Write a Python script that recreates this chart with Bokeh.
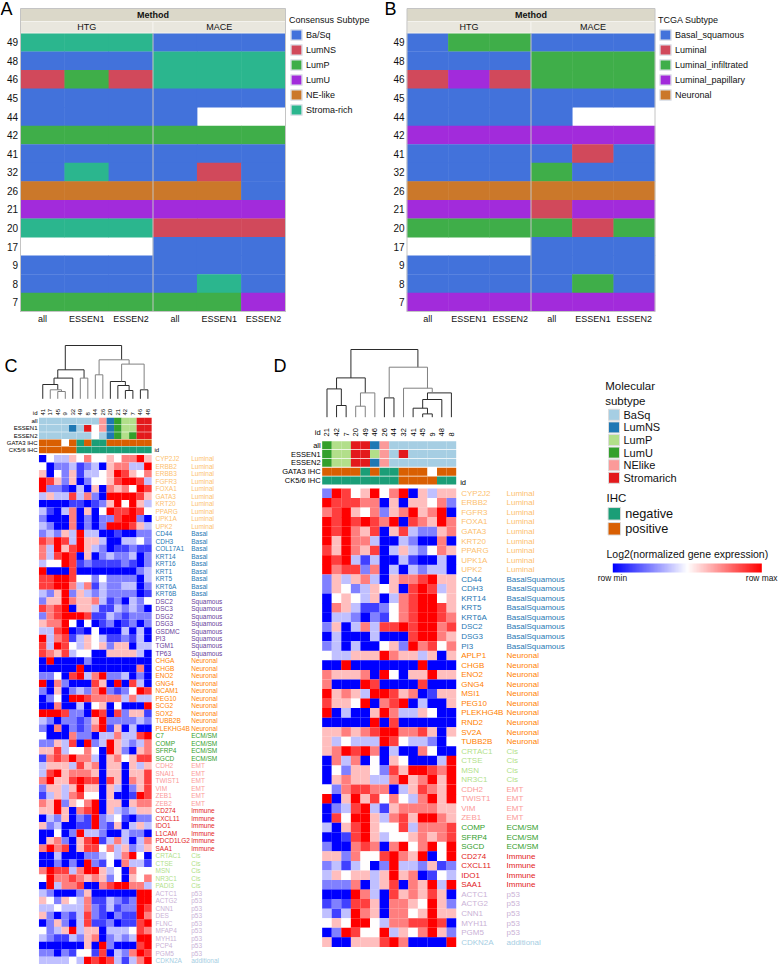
from bokeh.embed import file_html
from bokeh.resources import INLINE
from bokeh.plotting import figure
from bokeh.layouts import column, row
from bokeh.core.properties import value
from bokeh.models import (ColumnDataSource, Range1d, FixedTicker, Legend, LegendItem,
                          LinearColorMapper, ColorBar)
from math import pi

FONT = "Liberation Sans"
IDS = ["49", "48", "46", "45", "44", "42", "41", "32", "26", "21", "20", "17", "9", "8", "7"]
METHOD_COLS = ["all", "ESSEN1", "ESSEN2", "all", "ESSEN1", "ESSEN2"]

CONS_NAMES = {"B": "Ba/Sq", "N": "LumNS", "P": "LumP", "U": "LumU", "E": "NE-like", "S": "Stroma-rich"}
CONS_COLORS = ["#4272db", "#d1495b", "#3fae49", "#a22bdb", "#cb782a", "#2bb68e"]
CONS_TABLE = ["SSSBBB", "BBBSSS", "NPNSSS", "BBBBBB", "BBBB--", "PPPPPP", "BBBBBB", "BSBBNB",
              "EEEEEB", "UUUUUU", "SSSNNN", "---BBB", "BBBBBB", "BBBBSB", "PPPPPU"]
TCGA_NAMES = {"B": "Basal_squamous", "L": "Luminal", "I": "Luminal_infiltrated", "P": "Luminal_papillary", "N": "Neuronal"}
TCGA_COLORS = ["#4272db", "#d1495b", "#3fae49", "#a22bdb", "#cb782a"]
TCGA_TABLE = ["BIIBBB", "BBBIII", "LPLIII", "BBBBBB", "BBBB--", "PPPPPP", "BBBBLB", "BBBIBB",
              "NNNNNN", "PPPLPP", "IIIILI", "---BBB", "BBBBBB", "BBBBIB", "PPPPPP"]

C_IDS = ["41", "17", "45", "9", "32", "49", "8", "44", "26", "20", "21", "42", "7", "46", "48"]
C_ANN = {
    "all": "BBBBBBBBENUPPSS",
    "ESSEN1": "BBBBNBS-ENUPPSS",
    "ESSEN2": "BBBBBBB-BNUPUSS",
    "GATA3 IHC": "ppp-pnpnnpppppp",
    "CK5/6 IHC": "pppppnnnnnnnnnn",
}
D_IDS = ["21", "42", "7", "20", "49", "46", "26", "44", "32", "41", "45", "9", "48", "8"]
D_ANN = {
    "all": "UPPSSNEBBBBBBB",
    "ESSEN1": "UPPSSPEBSBBBBB",
    "ESSEN2": "UPPSSNEBBBBBBB",
    "GATA3 IHC": "ppppnpnnppp-pp",
    "CK5/6 IHC": "nnnnnnnnppppnn",
}
ANN_COLORS = {"B": "#a6cee3", "N": "#1f78b4", "P": "#b2df8a", "U": "#33a02c", "E": "#fb9a99", "S": "#e31a1c",
              "n": "#1b9e77", "p": "#d95f02", "-": "#ffffff"}

# dendrograms: (left, right, height in px, shade)
C_TREE = (((("41", ("17", ("45", "9", 7.3, 1), 9, 1), 14.3, 0), "32", 20.7, 0), ("49", "8", 20.7, 1), 29, 0),
          (("44", "26", 24, 1), (("20", ("21", ("42", "7", 8.3, 0), 13.3, 0), 17.3, 0), ("46", "48", 9, 0), 34.7, 1), 39, 1),
          53.3, 0)
D_TREE = ((("21", ("42", "7", 11.7, 0), 28.3, 0), (("20", "49", 11, 1), "46", 24.3, 1), 39.3, 0),
          (("26", "44", 19.3, 0), ("32", ((("41", ("45", "9", 3.3, 0), 9, 0), "48", 17.7, 0), "8", 24.3, 0), 29, 1), 50, 1),
          67.7, 0)

GROUP_COLORS = {"Luminal": "#fdbf6f", "Basal": "#1f78b4", "BasalSquamous": "#1f78b4", "Squamous": "#6a3d9a",
                "Neuronal": "#ff7f00", "ECM/SM": "#33a02c", "EMT": "#fb9a99", "Immune": "#e31a1c", "Cis": "#b2df8a",
                "p53": "#cab2d6", "additional": "#a6cee3"}

C_GENES = ["CYP2J2", "ERBB2", "ERBB3", "FGFR3", "FOXA1", "GATA3", "KRT20", "PPARG", "UPK1A", "UPK2",
           "CD44", "CDH3", "COL17A1", "KRT14", "KRT16", "KRT1", "KRT5", "KRT6A", "KRT6B",
           "DSC2", "DSC3", "DSG2", "DSG3", "GSDMC", "PI3", "TGM1", "TP63",
           "CHGA", "CHGB", "ENO2", "GNG4", "NCAM1", "PEG10", "SCG2", "SOX2", "TUBB2B", "PLEKHG4B",
           "C7", "COMP", "SFRP4", "SGCD",
           "CDH2", "SNAI1", "TWIST1", "VIM", "ZEB1", "ZEB2",
           "CD274", "CXCL11", "IDO1", "L1CAM", "PDCD1LG2", "SAA1",
           "CRTAC1", "CTSE", "MSN", "NR3C1", "PADI3",
           "ACTC1", "ACTG2", "CNN1", "DES", "FLNC", "MFAP4", "MYH11", "PCP4", "PGM5",
           "CDKN2A"]
C_GROUPS = ["Luminal"] * 10 + ["Basal"] * 9 + ["Squamous"] * 8 + ["Neuronal"] * 10 + ["ECM/SM"] * 4 + ["EMT"] * 6 + \
           ["Immune"] * 6 + ["Cis"] * 5 + ["p53"] * 9 + ["additional"]
C_MATRIX = [
    [-4, 0, -1, -1, 1, 0, 2, 0, 0, 1, 0, 2, 2, 4, 1],
    [0, -4, -2, -2, -1, -3, -2, -1, -4, 1, 2, 2, -1, -1, 4],
    [1, -4, 0, -2, 1, -3, -1, -1, 0, 1, 4, 3, 1, 0, 2],
    [4, 3, 1, -2, 1, -4, -2, 0, 0, 1, 3, 4, 4, 3, -1],
    [4, -2, -2, -3, -4, -1, -4, 1, -4, 2, 1, 2, 0, 4, 3],
    [-1, 1, -1, -1, 3, -1, 2, -2, -4, 4, 4, 4, 4, 3, 1],
    [-4, -4, -4, -4, -3, -3, -4, -3, -2, 1, 4, 0, 4, 1, -1],
    [-1, -3, -4, -1, 2, -4, 1, -4, 0, 4, 3, 3, 4, 3, 0],
    [-2, -4, -4, -4, 2, -4, -2, -4, -2, -2, 3, 4, 4, -2, -4],
    [-1, -2, -4, -4, 2, -4, -2, -4, -2, 4, 4, 4, 3, 1, -1],
    [-2, -1, -2, 1, -1, 4, -1, -1, -4, -4, -3, -4, -4, -2, -2],
    [3, 2, 4, 3, -1, 4, 1, 1, -1, -4, -4, -1, -1, 0, -2],
    [2, -1, 4, 1, 3, 4, 1, -1, -2, -4, -3, -3, -2, -3, -3],
    [2, -1, 3, 4, 3, -4, 1, -4, -2, -1, -2, -2, -1, -4, -2],
    [-1, 0, 0, 4, 3, -3, -2, -3, -3, -3, -3, -2, -3, -4, -2],
    [4, -4, -4, -4, 3, -4, -4, -4, -4, -4, -4, -4, -4, -2, -1],
    [3, 3, 4, 4, 3, 0, 0, -2, 0, -2, -2, -2, -2, -4, -1],
    [3, 3, 4, 4, 2, -1, 2, -3, -1, -2, -2, -1, -1, -4, -2],
    [-1, -2, 1, 4, -2, 1, -1, -2, -1, -2, -2, -2, -2, -4, -3],
    [-2, 1, 1, 4, 2, 1, 1, 2, -1, -3, -2, -4, -1, -2, 0],
    [3, 2, 3, 4, -4, 1, 1, -1, -3, -3, -1, -2, -1, -2, -4],
    [-2, 2, 3, 4, 4, 4, 3, -3, -3, -1, -2, -3, -2, -2, -2],
    [1, 2, 2, 4, 0, -4, 0, -4, -3, -2, -4, -3, -2, -4, -2],
    [-1, -1, 3, 4, -4, -3, -4, 0, -4, -4, -4, -1, -4, -1, -4],
    [4, -1, 2, 3, -3, -1, 1, 0, -1, -3, -3, -2, -3, -1, -4],
    [3, -1, 4, 3, 0, -1, 1, 0, 1, -2, 1, 1, -4, -1, -1],
    [3, 2, 1, 3, -1, 0, 0, -4, -4, 1, 1, 1, 1, -1, -4],
    [-4, 4, -4, -4, -4, -4, -2, -4, -4, -4, -4, -4, -4, -4, -4],
    [-4, -4, -4, -4, -4, 4, -4, -4, -4, -4, -4, -4, -4, 2, -4],
    [-2, -2, 0, -4, 3, 4, -1, 2, 4, -2, -2, -1, -4, -2, -4],
    [4, -4, 2, -2, -4, -4, -4, 3, 1, -4, 4, -4, 3, -1, -4],
    [-2, -4, 1, -4, -2, -1, -2, 2, 4, -2, -3, -2, 0, 4, 3],
    [-4, -2, 0, -4, 4, 4, 3, 2, 2, 2, 2, -1, 2, -1, -1],
    [-4, -4, 2, -4, -4, -1, -4, 0, 1, -4, 0, -4, -4, -4, 4],
    [4, 4, 4, 3, -2, -2, -4, 4, 3, -4, 3, -2, 1, 1, -3],
    [-1, -2, -4, -2, -2, -3, -2, 1, 4, -2, -2, -2, -2, -1, -2],
    [-2, -4, 2, -4, -2, -3, -2, 2, 4, -3, 1, -4, -1, -4, -4],
    [0, -4, -4, -4, 2, -2, -2, -4, -1, -1, 2, -1, -1, 3, 4],
    [-2, -2, 1, -1, 3, -4, 4, -2, -1, 4, 1, -1, -2, -1, 2],
    [1, 1, 3, -1, 0, 0, 2, 0, -4, 4, 1, -2, -4, 1, 2],
    [-3, 2, 3, 2, 4, 2, 2, -1, -4, 1, 2, 0, 1, 3, 3],
    [-1, 1, 1, 1, -1, 3, 1, 2, -4, 1, 1, -4, 1, -1, 1],
    [-1, 3, 4, 1, 2, 2, 2, 1, -4, 1, 1, -4, 1, 1, 3],
    [2, 4, 1, 1, 3, 4, 3, 3, -4, 3, 1, -4, 2, 1, 3],
    [-2, 1, 1, -1, 1, 4, 1, 1, -4, 1, -1, -4, -2, 1, 3],
    [-3, -1, 1, -1, 2, 3, 0, 0, -4, 1, -4, -4, -3, 4, 3],
    [2, 1, 4, -2, 1, 0, 2, 4, -4, 1, 1, -4, 1, 2, 2],
    [1, 1, 4, 1, -4, 2, 3, 4, -4, 1, -1, -2, -1, 1, 1],
    [-4, -1, -2, 1, -4, -2, -3, 4, -2, -1, 0, -3, -4, -2, -2],
    [1, -2, -1, -4, -4, -3, -3, 4, -2, -3, 1, -4, -1, 1, -1],
    [-4, -4, 0, -4, -2, 4, -1, -1, -2, -4, -4, -1, -2, -2, -4],
    [-4, 1, 2, -2, -4, 1, 3, 4, -3, -1, 2, -1, -4, -1, 2],
    [2, 4, 2, 3, -4, 1, 3, 3, 0, 2, -1, 1, -2, -1, 1],
    [-4, -4, -1, -4, -4, -4, -2, -2, -1, 0, -1, 2, 4, 0, -4],
    [-4, -4, -2, -4, -2, -4, 4, -2, -3, 0, -4, 2, -1, -1, -3],
    [2, 4, 3, 3, -1, 2, 4, 4, 1, -1, 0, -4, 2, 0, 0],
    [0, 4, 2, 2, 3, 2, 1, 2, 1, -2, 0, -4, 1, 0, 2],
    [-4, 4, -1, 2, 2, 3, -4, -4, 2, 3, 4, 4, 2, 2, -1],
    [-1, -2, -4, -4, -4, -2, 1, -4, -4, -4, -4, -4, -4, 4, 4],
    [1, 0, -2, 1, 0, -1, 2, -3, -3, -1, -2, -3, -2, 4, 4],
    [-1, -1, 0, -1, -1, -1, 2, -2, -3, -1, -3, -2, -2, 4, 3],
    [1, -2, -4, -2, -3, -1, 3, -2, -3, -4, -2, -3, -3, 4, 2],
    [-4, -2, 1, -2, -4, -1, 3, -3, -3, -2, -4, -3, -3, 3, 4],
    [0, -2, -1, 1, 4, -1, 1, 1, -4, -1, -1, -1, 0, 3, 2],
    [-1, -2, -3, -3, -1, -2, 1, 2, -4, -2, -1, -2, -1, 4, 4],
    [-4, -4, -4, -4, -4, -4, 1, -4, 4, -2, -4, -4, -4, 3, 4],
    [-2, -2, -4, -2, -3, 0, 0, -3, 3, -4, -1, -2, 2, 4, 3],
    [-1, -1, -1, -1, 0, -1, 4, 3, 4, 3, -1, -3, -1, 2, 4],
]

D_GENES = ["CYP2J2", "ERBB2", "FGFR3", "FOXA1", "GATA3", "KRT20", "PPARG", "UPK1A", "UPK2",
           "CD44", "CDH3", "KRT14", "KRT5", "KRT6A", "DSC2", "DSG3", "PI3",
           "APLP1", "CHGB", "ENO2", "GNG4", "MSI1", "PEG10", "PLEKHG4B", "RND2", "SV2A", "TUBB2B",
           "CRTAC1", "CTSE", "MSN", "NR3C1",
           "CDH2", "TWIST1", "VIM", "ZEB1",
           "COMP", "SFRP4", "SGCD",
           "CD274", "CXCL11", "IDO1", "SAA1",
           "ACTC1", "ACTG2", "CNN1", "MYH11", "PGM5",
           "CDKN2A"]
D_GROUPS = ["Luminal"] * 9 + ["BasalSquamous"] * 8 + ["Neuronal"] * 10 + ["Cis"] * 4 + ["EMT"] * 4 + ["ECM/SM"] * 3 + \
           ["Immune"] * 4 + ["p53"] * 5 + ["additional"]
D_MATRIX = [
    [-2, 4, 3, 0, 1, 4, 0, 2, 4, -4, 1, -1, 1, 1],
    [4, 3, 3, 3, 2, 2, -4, 1, -4, 1, 1, 0, 2, -2],
    [2, 3, 4, 1, 0, 2, -2, 1, 2, 4, 1, 2, 4, -4],
    [4, 3, 4, 3, 4, 3, 2, 4, -4, 3, 2, 1, 4, 2],
    [4, 3, 4, 2, 1, 3, -4, 1, 3, -1, -2, -2, 1, 2],
    [4, 1, 4, 2, 2, -1, -4, -4, -1, -2, -4, -4, 2, -4],
    [3, 1, 4, 2, 1, 3, -4, -1, 1, -1, -2, 0, 2, 1],
    [4, 3, 4, -1, -3, -1, -4, -4, -1, -3, -4, -4, -1, -4],
    [4, 2, 3, 3, -2, 2, -4, -1, -4, -1, -2, -1, -1, -4],
    [-2, 1, -1, 1, 2, -1, -4, 1, 2, 2, 3, 4, 1, 1],
    [-2, 1, 0, -2, -1, 1, 0, 1, -4, 3, 4, 3, -1, 1],
    [-4, 0, 1, 0, -1, 1, -4, -1, 2, 3, 4, 4, 0, 1],
    [-4, 2, 1, -1, -3, -3, -2, 0, 2, 3, 4, 4, 3, 1],
    [-4, -1, -1, -2, -4, -2, -3, 0, 2, 3, 4, 4, 3, 2],
    [-2, 1, -4, -1, 2, -1, 3, 3, 4, 3, 4, 4, 2, 3],
    [-4, -1, -4, -4, -4, -1, -4, -4, -4, 3, 4, 4, 2, 1],
    [-2, -1, -4, -1, -4, -4, 0, 1, -2, 4, 2, 3, 0, 2],
    [0, -1, -1, 1, 1, 1, 4, 2, 1, 1, -1, 1, -4, 1],
    [-4, -4, 4, -4, -4, -4, -4, -4, -4, -4, 4, -4, -4, -4],
    [2, 1, 1, 1, 2, -4, 4, 0, -4, 1, 1, 4, 1, 1],
    [2, -4, -4, -4, 4, 3, -4, -4, -4, -4, 3, -4, -4, -4],
    [4, 1, 2, 1, -1, 4, 4, 3, 1, 2, -4, -3, 1, 1],
    [3, 1, 1, 0, 4, -4, 2, 3, 4, -4, -1, -4, -4, 1],
    [4, -4, -1, -4, -4, 1, 4, 2, -1, -1, 1, 0, -4, -4],
    [-4, -4, -4, -4, -4, 4, -4, 3, -4, -4, -4, -4, -4, -4],
    [1, 1, 2, 1, 2, 3, 4, 4, 2, 2, 3, 1, -4, 1],
    [1, -1, 0, -1, -1, -1, 4, 3, 0, -1, -1, -2, -4, 0],
    [1, 2, 4, 3, 4, 2, -4, -1, -4, -4, 2, 0, -4, -4],
    [-4, 2, -1, 2, -4, 0, -4, 1, 0, -4, -4, -4, -1, 4],
    [-4, 0, -2, 1, 1, 0, -2, 3, 1, 4, 4, 3, 2, 4],
    [-4, 1, 2, 1, 1, -1, -1, 2, 4, 1, 2, 4, 1, 4],
    [0, -2, 2, 3, 3, 2, 2, -4, -1, 1, 3, 2, 1, 4],
    [4, -4, 1, 4, 1, 3, 0, 2, 0, -1, 2, 4, 1, 4],
    [-4, -2, -1, 3, 4, -1, -3, 1, 2, 2, 2, 2, 1, 1],
    [-4, 3, 0, 4, 4, 1, -1, 2, 3, 1, 4, 4, 2, 1],
    [-1, -4, 1, 3, 4, 1, 0, 0, 3, -1, 2, 2, 2, 3],
    [-4, -4, -3, 3, 4, 1, -1, 0, 0, 1, 2, 1, 2, 3],
    [-2, -4, -4, 2, 3, 2, -4, 2, 4, 0, 2, 4, 0, 4],
    [1, 1, -2, 2, 0, 0, 3, 4, 2, 1, 4, -4, 0, 4],
    [-2, -1, -3, -1, 0, -4, -2, 4, -1, -1, -2, 1, -3, -2],
    [-1, 1, 0, 1, 1, -1, 1, 4, 1, 2, -4, -3, 0, -1],
    [-2, -2, -2, 2, -4, -1, 1, 3, -4, 2, 1, 4, -1, 4],
    [-4, -4, -4, 4, 2, -1, -4, 3, 1, 2, 1, 3, 1, -4],
    [-3, -2, -3, 3, 3, 1, -4, 2, 2, 1, 0, 4, 1, -2],
    [-1, -3, -1, 4, 2, 1, -4, 2, 2, 0, 1, 4, 1, 1],
    [0, 1, 0, 4, 4, 0, -1, 2, 2, 3, 3, 4, 3, -4],
    [-4, -2, 4, 3, 0, 0, 4, -1, 1, 0, 2, 4, 1, -2],
    [1, -4, -4, 1, 1, 1, 3, 4, 2, -4, -4, -4, -4, 4],
]


def ramp():
    out = []
    for i in range(256):
        t = i / 255
        if t < 0.5:
            v = int(round(255 * t * 2))
            out.append("#%02x%02xff" % (v, v))
        else:
            v = int(round(255 * (1 - t) * 2))
            out.append("#ff%02x%02x" % (v, v))
    return out


MAPPER = LinearColorMapper(palette=ramp(), low=-4, high=4)


def full_frame(width, height, xr, yr):
    p = figure(width=width, height=height, output_backend="svg", toolbar_location=None,
               x_range=Range1d(*xr), y_range=Range1d(*yr),
               x_axis_location=None, y_axis_location=None,
               min_border=0, min_border_left=0, min_border_right=0, min_border_top=0, min_border_bottom=0)
    p.grid.visible = False
    p.outline_line_color = None
    return p


def strip_panel(letter, table, names, colors, legend_title, width, x0, frame_w, legend_x):
    ncol, nrow = 6, len(IDS)
    height, y_top, y_body, y_bot = 330, 8.0, 32.5, 311.0
    cw = frame_w / ncol
    rh = (y_bot - y_body) / nrow
    fx = lambda ref: (ref - x0) / cw
    fy = lambda ref: (ref - y_body) / rh
    p = full_frame(width, height, (fx(0), fx(width)), (fy(height), fy(0)))
    xs, ys, cs = [], [], []
    for r, line in enumerate(table):
        for c, k in enumerate(line):
            if k != "-":
                xs.append(c + 0.5)
                ys.append(r + 0.5)
                cs.append(colors[list(names).index(k)])
    p.rect(x=xs, y=ys, width=1.01, height=1.02, fill_color=cs, line_color=None)
    # facet strips
    top = fy(y_top)
    mid = fy(21.0)
    p.quad(left=[0], right=[ncol], top=[top], bottom=[mid], fill_color="#dbd8c9", line_color=None)
    p.quad(left=[0, 3], right=[3, 6], top=[mid, mid], bottom=[0, 0], fill_color="#e9e7de", line_color="#f4f3ee")
    p.segment(x0=[3], x1=[3], y0=[0], y1=[nrow], line_color="#c4c4c4", line_width=1)
    p.quad(left=[0], right=[ncol], top=[top], bottom=[nrow], fill_color=None, line_color="#c4c4c4", line_width=1)
    tk = dict(text_font=value(FONT), text_baseline="middle", text_color="#111111")
    p.text(x=[ncol / 2], y=[(top + mid) / 2], text=["Method"], text_font_size="9px", text_font_style="bold",
           text_align="center", **tk)
    p.text(x=[1.5, 4.5], y=[mid / 2, mid / 2], text=["HTG", "MACE"], text_font_size="9px", text_align="center", **tk)
    # tick labels
    p.text(x=[c + 0.5 for c in range(ncol)], y=[fy(318.5)] * ncol, text=METHOD_COLS, text_font_size="9px",
           text_align="center", **tk)
    p.text(x=[fx(x0 - 2.5)] * nrow, y=[r + 0.5 for r in range(nrow)], text=IDS, text_font_size="10px",
           text_align="right", **tk)
    p.text(x=[fx(0)], y=[fy(8.5)], text=[letter], text_font_size="18px", text_align="left", text_font=value(FONT),
           text_baseline="middle", text_color="#000000")
    # legend
    items = []
    for k, col in zip(names, colors):
        swatch = p.rect(x=[-90], y=[-90], width=1, height=1, fill_color=col, line_color="#dfe3ea", line_width=1.5)
        items.append(LegendItem(label=names[k], renderers=[swatch]))
    leg_bottom = 25 + len(items) * 15.2
    leg = Legend(items=items, title=legend_title, title_text_font=FONT, title_text_font_size="9px",
                 title_text_font_style="normal", title_text_color="#111111", title_standoff=3,
                 label_text_font=FONT, label_text_font_size="9px", label_text_color="#111111",
                 glyph_width=14, glyph_height=13, label_height=13, label_standoff=3, spacing=2,
                 padding=0, margin=0, border_line_color=None, background_fill_color=None,
                 location=(legend_x, height - leg_bottom))
    p.add_layout(leg)
    return p


def walk(node, pos, segs_dark, segs_gray):
    """Return (leaf list, node x) and record the bracket of every merge."""
    if isinstance(node, str):
        return [node], pos[node], 0.0
    l_leaves, lx, lh = walk(node[0], pos, segs_dark, segs_gray)
    r_leaves, rx, rh = walk(node[1], pos, segs_dark, segs_gray)
    h = node[2]
    tgt = segs_gray if node[3] else segs_dark
    tgt.append(([lx, lx, rx, rx], [lh, h, h, rh]))
    leaves = l_leaves + r_leaves
    return leaves, sum(pos[k] for k in leaves) / len(leaves), h


def heat_panel(letter, ids, ann, tree, genes, groups, matrix, width, height, x_left, y_top, x0, y0, cw, rh,
               ann_y0, ann_pitch, ann_h, leaf_y, id_y, fs_gene, fs_lab, x_gene, x_group, id2_y, letter_x, letter_y):
    fx = lambda ref: (ref - x0) / cw
    fy = lambda ref: (ref - y0) / rh
    p = full_frame(width, height, (fx(x_left), fx(x_left + width)), (fy(y_top + height), fy(y_top)))
    n = len(ids)
    # heat cells
    cx, cy, v = [], [], []
    for r, vals in enumerate(matrix):
        assert len(vals) == n, (letter, r, len(vals))
        for c, val in enumerate(vals):
            cx.append(c + 0.5)
            cy.append(r + 0.5)
            v.append(val)
    src = ColumnDataSource(dict(x=cx, y=cy, v=v))
    p.rect("x", "y", width=1.01, height=1.01, source=src, fill_color={"field": "v", "transform": MAPPER},
           line_color=None)
    # gene labels
    ys = [r + 0.5 for r in range(len(genes))]
    cols = [GROUP_COLORS[g] for g in groups]
    p.text(x=[fx(x_gene)] * len(genes), y=ys, text=genes, text_color=cols, text_font=value(FONT),
           text_font_size=fs_gene, text_baseline="middle", text_align="left")
    p.text(x=[fx(x_group)] * len(genes), y=ys, text=groups, text_color=cols, text_font=value(FONT),
           text_font_size=fs_gene, text_baseline="middle", text_align="left")
    # annotation rows
    ax, ay, ac = [], [], []
    ann_ys = []
    for i, (name, codes) in enumerate(ann.items()):
        ref_y = ann_y0 + i * ann_pitch + ann_h / 2
        ann_ys.append(fy(ref_y))
        for c, k in enumerate(codes):
            ax.append(c + 0.5)
            ay.append(fy(ref_y))
            ac.append(ANN_COLORS[k])
    p.rect(x=ax, y=ay, width=1.005, height=ann_h / rh, fill_color=ac, line_color=None)
    p.text(x=[fx(x0 - 1.5)] * len(ann), y=ann_ys, text=list(ann), text_font=value(FONT), text_font_size=fs_lab,
           text_align="right", text_baseline="middle", text_color="#000000")
    # id row
    p.text(x=[c + 0.5 for c in range(n)], y=[fy(id_y)] * n, text=ids, angle=pi / 2, text_font=value(FONT),
           text_font_size=fs_lab, text_align="left", text_baseline="middle", text_color="#000000")
    p.text(x=[fx(x0 - 1.5)], y=[fy(id_y)], text=["id"], text_font=value(FONT), text_font_size=fs_lab,
           text_align="right", text_baseline="bottom", text_color="#000000")
    p.text(x=[fx(x_gene - 1)], y=[fy(id2_y)], text=["id"], text_font=value(FONT), text_font_size=fs_lab,
           text_align="left", text_baseline="middle", text_color="#000000")
    # dendrogram
    pos = {k: i + 0.5 for i, k in enumerate(ids)}
    dark, gray = [], []
    walk(tree, pos, dark, gray)
    for segs, col in ((dark, "#2b2b2b"), (gray, "#808080")):
        p.multi_line(xs=[s[0] for s in segs], ys=[[fy(leaf_y - h) for h in s[1]] for s in segs],
                     line_color=col, line_width=1)
    p.text(x=[fx(letter_x)], y=[fy(letter_y)], text=[letter], text_font=value(FONT), text_font_size="18px",
           text_baseline="middle", text_color="#000000")
    return p


def legend_panel(width, height, x_left, y_top):
    mol = ["BaSq", "LumNS", "LumP", "LumU", "NElike", "Stromarich"]
    mol_c = ["#a6cee3", "#1f78b4", "#b2df8a", "#33a02c", "#fb9a99", "#e31a1c"]
    ihc = ["negative", "positive"]
    ihc_c = ["#1b9e77", "#d95f02"]
    p = full_frame(width, height, (x_left, x_left + width), (y_top + height, y_top))
    kw = dict(text_font=value(FONT), text_baseline="middle", text_color="#111111")
    p.text(x=[604.7, 604.7], y=[385.7, 400], text=["Molecular", "subtype"], text_font_size="11.5px", **kw)
    my = [414.3 + i * 12.6 for i in range(len(mol))]
    p.rect(x=[613.5] * len(mol), y=my, width=11, height=11, fill_color=mol_c, line_color="#dcdcdc", line_width=1)
    p.text(x=[623] * len(mol), y=my, text=mol, text_font_size="11px", **kw)
    p.text(x=[606], y=[497], text=["IHC"], text_font_size="11.5px", **kw)
    iy = [513.3, 528.3]
    p.rect(x=[613.8] * 2, y=iy, width=12.5, height=12.5, fill_color=ihc_c, line_color="#dcdcdc", line_width=1)
    p.text(x=[624.7] * 2, y=iy, text=ihc, text_font_size="12.7px", **kw)
    p.text(x=[606], y=[553], text=["Log2(normalized gene expression)"], text_font_size="10.5px", **kw)
    p.text(x=[597.3], y=[577.5], text=["row min"], text_font_size="8.4px", **kw)
    p.text(x=[777], y=[577.5], text=["row max"], text_font_size="8.4px", text_align="right", **kw)
    bar = ColorBar(color_mapper=MAPPER, orientation="horizontal", width=149, height=9,
                   location=(612.3 - x_left, y_top + height - 572),
                   ticker=FixedTicker(ticks=[]), major_tick_line_color=None, minor_tick_line_color=None,
                   major_label_text_font_size="0px", bar_line_color=None, border_line_color=None,
                   background_fill_color=None, padding=0, margin=0)
    p.add_layout(bar)
    return p


pA = strip_panel("A", CONS_TABLE, CONS_NAMES, CONS_COLORS, "Consensus Subtype", 384, 20, 265, 289)
pB = strip_panel("B", TCGA_TABLE, TCGA_NAMES, TCGA_COLORS, "TCGA Subtype", 394, 22.5, 248, 274)
pC = heat_panel("C", C_IDS, C_ANN, C_TREE, C_GENES, C_GROUPS, C_MATRIX, 265, 634, 0, 330,
                38.5, 454.5, 7.51, 7.49, 417.3, 7.2, 6.7, 398.3, 415, "6.5px", "6px", 155, 190.7, 449.5, 4, 365)
pD = heat_panel("D", D_IDS, D_ANN, D_TREE, D_GENES, D_GROUPS, D_MATRIX, 305, 634, 265, 330,
                321.7, 488, 9.57, 9.55, 440.7, 8.83, 8.0, 416.7, 436, "8px", "7.5px", 460.7, 506, 481.7, 273, 365)
pE = legend_panel(208, 634, 570, 330)

page = column(row(pA, pB, spacing=0), row(pC, pD, pE, spacing=0), spacing=0)
open("out.html", "w").write(file_html(page, INLINE))
